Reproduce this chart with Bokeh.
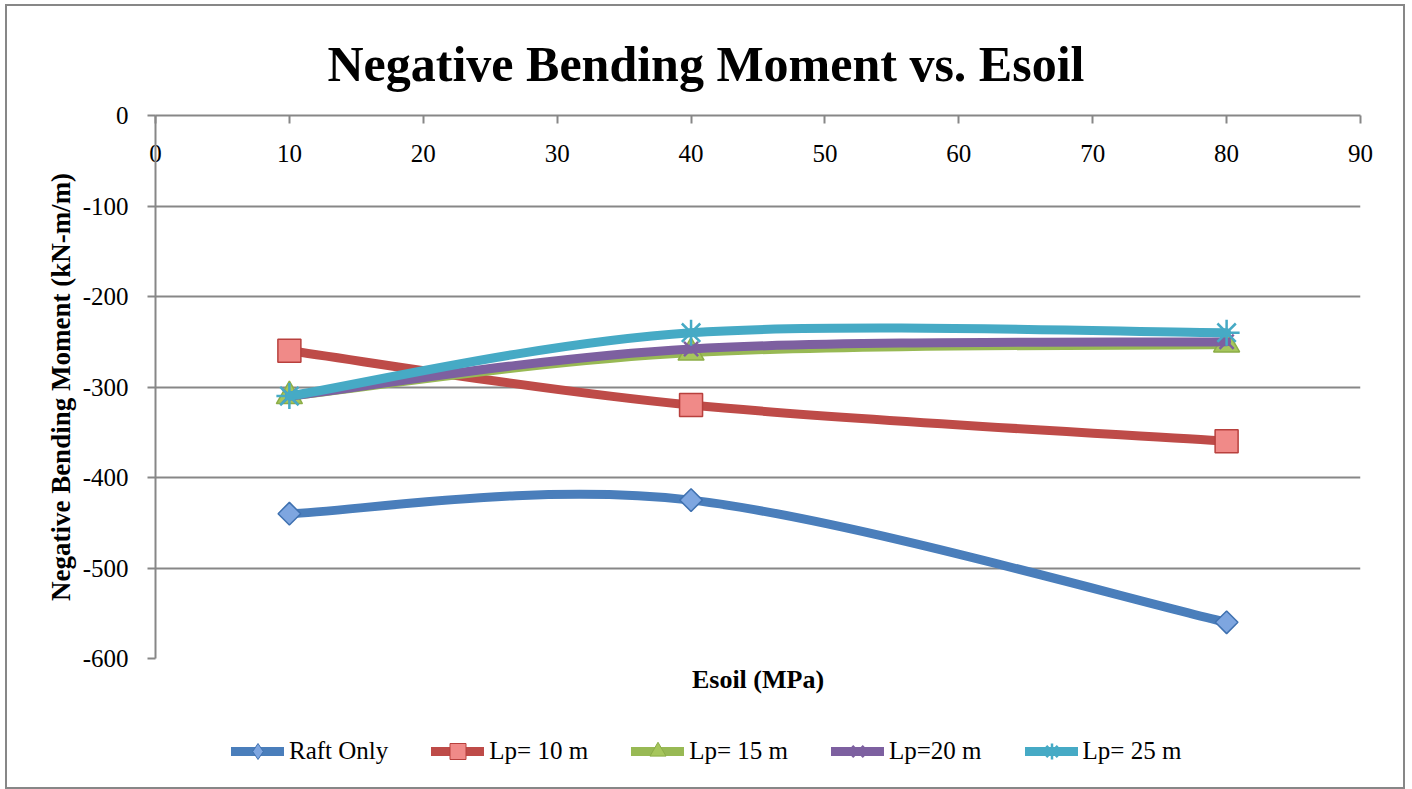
import math
from bokeh.plotting import figure
from bokeh.layouts import column
from bokeh.models import (ColumnDataSource, Range1d, LinearAxis, FixedTicker,
                          Legend, LegendItem)
from bokeh.embed import file_html
from bokeh.resources import INLINE

# ---- data ----
esoil = [10, 40, 80]
raft_only = [-440, -425, -560]
lp_10 = [-260, -320, -360]
lp_15 = [-310, -262, -253]
lp_20 = [-310, -258, -250]
lp_25 = [-310, -240, -240]
series_names = ["Raft Only", "Lp= 10 m", "Lp= 15 m", "Lp=20 m", "Lp= 25 m"]
x_ticks = [0, 10, 20, 30, 40, 50, 60, 70, 80, 90]
y_ticks = [0, -100, -200, -300, -400, -500, -600]

title_text = "Negative Bending Moment vs. Esoil"
x_title = "Esoil (MPa)"
y_title = "Negative Bending Moment (kN-m/m)"

SERIF = "Liberation Serif"
GREY = "#878787"


def smooth_segments(xs, ys):
    """Cubic Bezier control points for a smoothed line through the points."""
    n = len(xs)
    d = {k: [] for k in ("x0", "y0", "x1", "y1", "cx0", "cy0", "cx1", "cy1")}
    for i in range(n - 1):
        xp, yp = (xs[i - 1], ys[i - 1]) if i > 0 else (xs[i], ys[i])
        xn, yn = (xs[i + 2], ys[i + 2]) if i + 2 < n else (xs[i + 1], ys[i + 1])
        d["x0"].append(xs[i]); d["y0"].append(ys[i])
        d["x1"].append(xs[i + 1]); d["y1"].append(ys[i + 1])
        d["cx0"].append(xs[i] + (xs[i + 1] - xp) / 6.0)
        d["cy0"].append(ys[i] + (ys[i + 1] - yp) / 6.0)
        d["cx1"].append(xs[i + 1] - (xn - xs[i]) / 6.0)
        d["cy1"].append(ys[i + 1] - (yn - ys[i]) / 6.0)
    return d


p = figure(width=1396, height=701, output_backend="svg", toolbar_location=None,
           x_range=Range1d(min(x_ticks), max(x_ticks)),
           y_range=Range1d(min(y_ticks), max(y_ticks)),
           x_axis_location="above",
           min_border_left=148, min_border_right=43,
           min_border_top=109, min_border_bottom=49)
p.outline_line_color = None
p.background_fill_color = "white"
p.border_fill_color = "white"

# title
p.title.text = title_text
p.title.text_font = SERIF
p.title.text_font_style = "bold"
p.title.text_font_size = "50px"
p.title.text_color = "black"
p.title.align = "left"
p.title.offset = 172
p.title.standoff = 47

# x axis (top)
xa = p.xaxis[0]
xa.ticker = FixedTicker(ticks=x_ticks)
xa.major_tick_in = 8
xa.major_tick_out = 0
xa.minor_tick_line_color = None
xa.axis_line_color = GREY
xa.axis_line_width = 2
xa.major_tick_line_color = GREY
xa.major_tick_line_width = 2
xa.major_label_text_font = SERIF
xa.major_label_text_font_size = "25px"
xa.major_label_text_color = "black"
xa.major_label_standoff = -46

# y axis
ya = p.yaxis[0]
ya.ticker = FixedTicker(ticks=y_ticks)
ya.major_label_overrides = {t: str(t) for t in y_ticks}
ya.major_tick_in = 0
ya.major_tick_out = 8
ya.minor_tick_line_color = None
ya.axis_line_color = GREY
ya.axis_line_width = 2
ya.major_tick_line_color = GREY
ya.major_tick_line_width = 2
ya.major_label_text_font = SERIF
ya.major_label_text_font_size = "25px"
ya.major_label_text_color = "black"
ya.major_label_standoff = 19
ya.axis_label = y_title
ya.axis_label_text_font = SERIF
ya.axis_label_text_font_style = "bold"
ya.axis_label_text_font_size = "27px"
ya.axis_label_text_color = "black"
ya.axis_label_standoff = 4

# bottom axis carrying only the x title
xb = LinearAxis(axis_label=x_title, ticker=FixedTicker(ticks=[]),
                axis_line_color=None, major_tick_line_color=None,
                minor_tick_line_color=None,
                major_label_text_font_size="0px",
                axis_label_text_font=SERIF, axis_label_text_font_style="bold",
                axis_label_text_font_size="26px", axis_label_text_color="black",
                axis_label_standoff=6)
p.add_layout(xb, "below")

# grid
p.xgrid.visible = False
p.ygrid.ticker = FixedTicker(ticks=y_ticks)
p.ygrid.grid_line_color = GREY
p.ygrid.grid_line_width = 2

styles = [
    dict(values=raft_only, color="#4A7EBB", marker="square", angle=math.pi / 4,
         size=16, fill="#7EA6E0", mline="#3F71B0", mwidth=1.5, lmarker="diamond"),
    dict(values=lp_10, color="#BE4B48", marker="square", angle=0,
         size=23, fill="#F08A88", mline="#B8403D", mwidth=1.5, lmarker="square"),
    dict(values=lp_15, color="#98B954", marker="triangle", angle=0,
         size=26, fill="#A6C65C", mline="#8CAD47", mwidth=1.5, lmarker="triangle"),
    dict(values=lp_20, color="#7D60A0", marker="x", angle=0,
         size=20, fill=None, mline="#7D60A0", mwidth=2.5, lmarker="x"),
    dict(values=lp_25, color="#46AAC5", marker="asterisk", angle=0,
         size=26, fill=None, mline="#46AAC5", mwidth=2.5, lmarker="asterisk"),
]

# legend strip: a second figure whose ranges keep its series out of view,
# so only the legend keys are drawn
leg = figure(width=1396, height=80, output_backend="svg", toolbar_location=None,
             x_range=Range1d(min(x_ticks), max(x_ticks)), y_range=Range1d(1, 2),
             x_axis_type=None, y_axis_type=None,
             min_border_left=0, min_border_right=0,
             min_border_top=0, min_border_bottom=0)
leg.outline_line_color = None
leg.xgrid.visible = False
leg.ygrid.visible = False
leg.background_fill_color = "white"
leg.border_fill_color = "white"

items = []
for name, st in zip(series_names, styles):
    src = ColumnDataSource(smooth_segments(esoil, st["values"]))
    p.bezier(x0="x0", y0="y0", x1="x1", y1="y1", cx0="cx0", cy0="cy0",
             cx1="cx1", cy1="cy1", source=src, line_color=st["color"],
             line_width=9, line_cap="round")
    p.scatter(x=esoil, y=st["values"], marker=st["marker"],
              angle=st["angle"], size=st["size"],
              fill_color=st["fill"], line_color=st["mline"],
              line_width=st["mwidth"])
    key_line = leg.line(x=esoil, y=st["values"], line_color=st["color"],
                        line_width=9, line_cap="round")
    key_mark = leg.scatter(x=esoil, y=st["values"], marker=st["lmarker"],
                           fill_color=st["fill"], line_color=st["mline"],
                           line_width=st["mwidth"] if st["fill"] is None else 1)
    items.append(LegendItem(label=name, renderers=[key_line, key_mark]))

legend = Legend(items=items, orientation="horizontal", location=(76, 16),
                glyph_width=53, glyph_height=40, label_standoff=5, spacing=43,
                padding=0, margin=0, border_line_color=None,
                background_fill_alpha=0,
                label_text_font=SERIF, label_text_font_size="25px",
                label_text_color="black")
leg.add_layout(legend)

layout = column(p, leg, spacing=0)
layout.margin = (4, 0, 0, 5)
layout.styles = {"border": f"2px solid {GREY}", "background-color": "white"}

open("out.html", "w").write(file_html(layout, INLINE))
